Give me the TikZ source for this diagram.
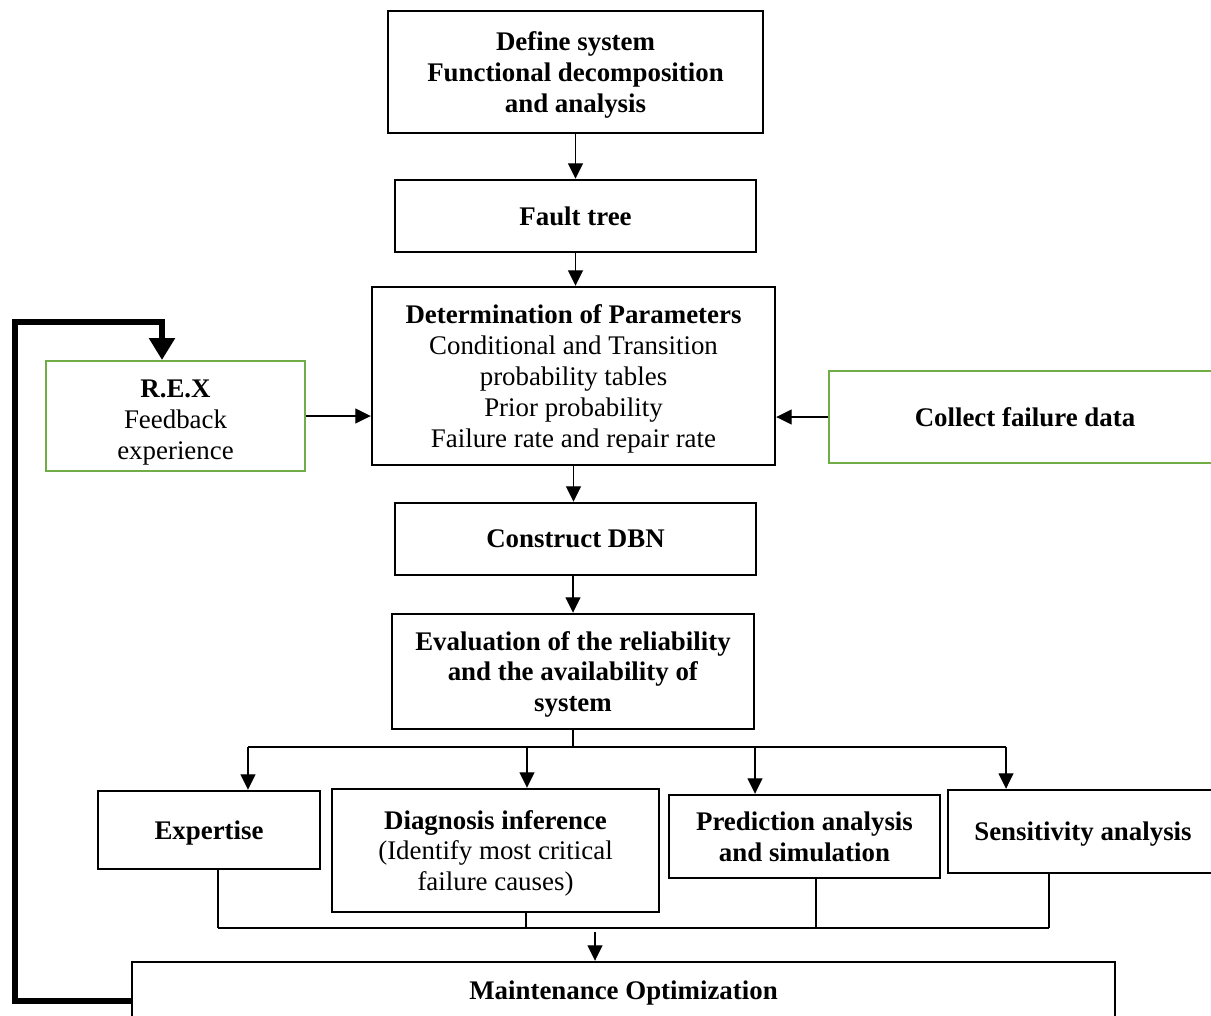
\documentclass[tikz,border=0pt]{standalone}
\usepackage{fontspec}
\setmainfont{Liberation Serif}
\usepackage{tikz}
\usetikzlibrary{arrows.meta}
\definecolor{rexgreen}{RGB}{112,173,71}
\tikzset{box/.style = {draw, line width=0.05cm, align=center, inner sep=0pt, text depth=0pt,
                       font=\fontsize{15.3}{17.6}\selectfont},
         greenbox/.style = {box, draw=rexgreen, line width=0.04cm},
         arr/.style = {line width=0.6pt, -{Triangle[width=0.3cm, length=0.31cm]}},
         fbline/.style = {line width=0.12cm, -{Triangle[width=0.5cm, length=0.44cm]}}}

\begin{document}
\begin{tikzpicture}[x=0.02cm, y=-0.02cm]
    \useasboundingbox (0, 0) rectangle (1211, 1015);
    \clip (0, 0) rectangle (1211, 1015);

    \node [box, minimum width=7.5cm, minimum height=2.44cm] (define) at (575.5, 72)
      {\textbf{Define system}\\\textbf{Functional decomposition}\\\textbf{and analysis}};
    \node [box, minimum width=7.22cm, minimum height=1.44cm] (fault) at (575.5, 216)
      {\textbf{Fault tree}};
    \node [box, minimum width=8.06cm, minimum height=3.56cm] (det) at (573.5, 376)
      {\textbf{Determination of Parameters}\\Conditional and Transition\\probability tables\\
       Prior probability\\Failure rate and repair rate};
    \node [greenbox, minimum width=5.18cm, minimum height=2.2cm] (rex) at (175.5, 416)
      {\rule{0pt}{14.5pt}\textbf{R.E.X}\\Feedback\\experience};
    \node [greenbox, minimum width=7.84cm, minimum height=1.84cm] (collect) at (1025, 417)
      {\textbf{Collect failure data}};
    \node [box, minimum width=7.22cm, minimum height=1.44cm] (dbn) at (575.5, 539)
      {\textbf{Construct DBN}};
    \node [box, minimum width=7.24cm, minimum height=2.3cm] (eval) at (573, 671.5)
      {\textbf{Evaluation of the reliability}\\\textbf{and the availability of}\\\textbf{system}};

    \node [box, minimum width=4.44cm, minimum height=1.56cm] (expertise) at (209, 830)
      {\textbf{Expertise}};
    \node [box, minimum width=6.54cm, minimum height=2.46cm] (diag) at (495.5, 850.5)
      {\textbf{Diagnosis inference}\\(Identify most critical\\failure causes)};
    \node [box, minimum width=5.42cm, minimum height=1.66cm] (pred) at (804.5, 836.5)
      {\textbf{Prediction analysis}\\\textbf{and simulation}};
    \node [box, minimum width=5.4cm, minimum height=1.66cm] (sens) at (1083, 831.5)
      {\textbf{Sensitivity analysis}};
    \node [box, minimum width=19.66cm, minimum height=1.12cm] (maint) at (623.5, 990)
      {\textbf{Maintenance Optimization}};

    \coordinate (split) at (573, 747);
    \coordinate (merge) at (595, 928);
    \coordinate (fbcorner) at (15, 322);

    % main chain
    \draw [arr] (define.south) -- (fault.north);
    \draw [arr] (fault.south) -- (fault.south |- det.north);
    \draw [arr] (det.south) -- (det.south |- dbn.north);
    \draw [arr] (eval.north |- dbn.south) -- (eval.north);
    \draw [arr] (rex.east) -- (rex.east -| det.west);
    \draw [arr] (collect.west) -- (collect.west -| det.east);

    % branches
    \draw [line width=0.6pt] (eval.south) -- (split);
    \draw [line width=0.6pt] ([xshift=0.78cm]expertise.north |- split)
      -- ([xshift=-1.54cm]sens.north |- split);
    \foreach \n/\dx in {expertise/0.78, diag/0.63, pred/-0.99, sens/-1.54}
      \draw [arr] ([xshift=\dx cm]\n.north |- split) -- ([xshift=\dx cm]\n.north);

    \foreach \n/\dx in {expertise/0.18, diag/0.61, pred/0.23, sens/-0.68}
      \draw [line width=0.6pt] ([xshift=\dx cm]\n.south) -- ([xshift=\dx cm]\n.south |- merge);
    \draw [line width=0.6pt] ([xshift=0.18cm]expertise.south |- merge)
      -- ([xshift=-0.68cm]sens.south |- merge);
    \draw [arr] ([xshift=-0.57cm, yshift=-0.08cm]maint.north |- merge) -- ([xshift=-0.57cm]maint.north);

    % feedback loop
    \draw [fbline] ([yshift=-0.22cm]maint.west) -| (fbcorner) -| ([xshift=-0.27cm]rex.north);
  \end{tikzpicture}
\end{document}
